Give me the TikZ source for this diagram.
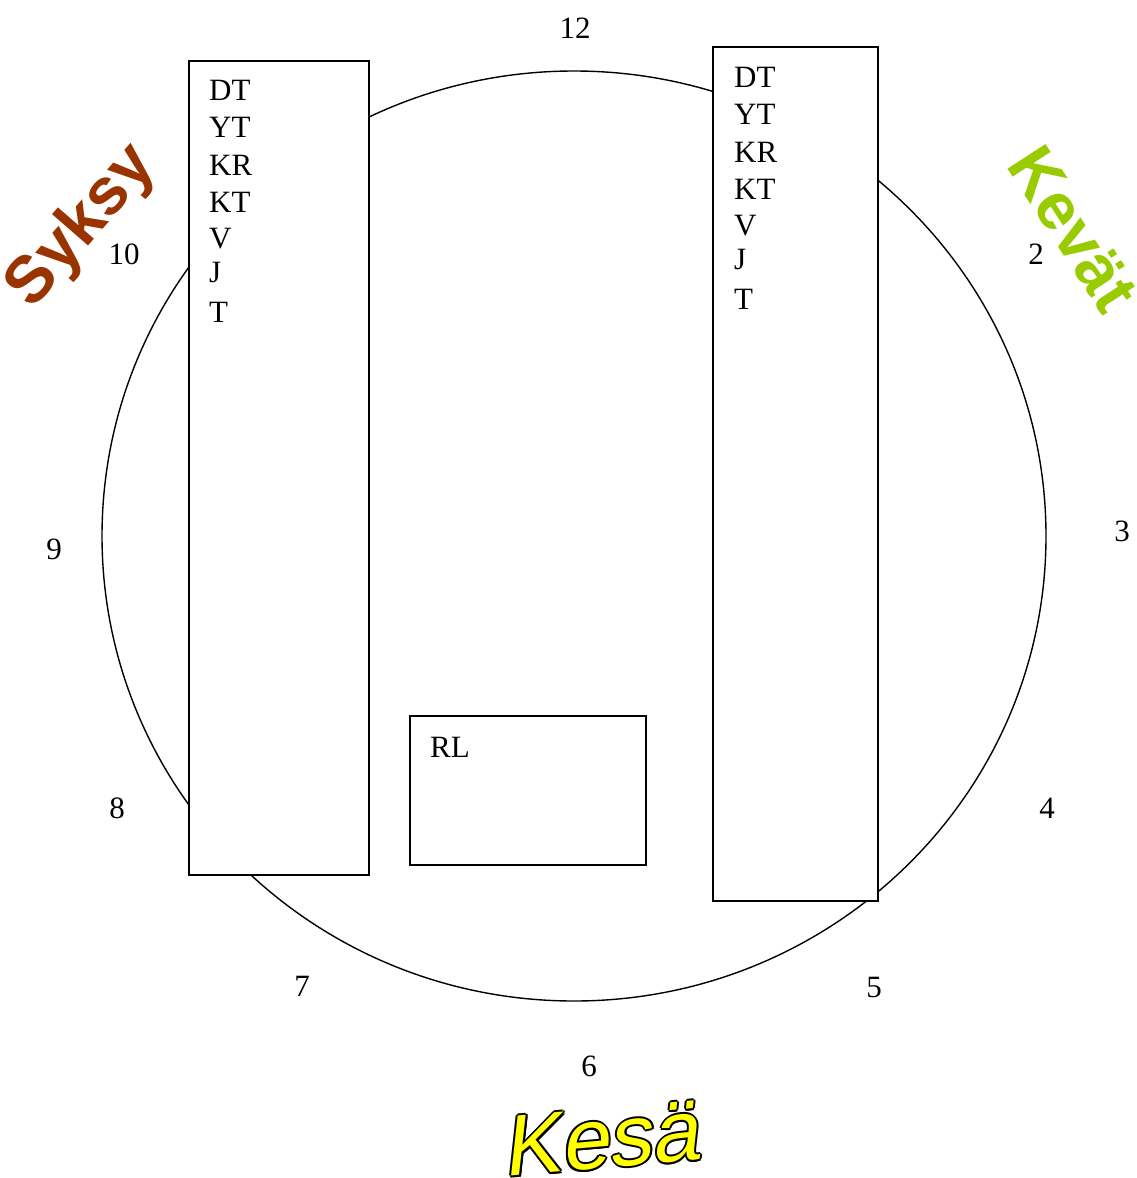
\documentclass[tikz,border=0pt]{standalone}
\usepackage{fontspec}
\usetikzlibrary{calc}
\setmainfont{Liberation Serif}
\newfontfamily\seasonfont{Liberation Sans}
\newfontfamily\kesafont[FakeSlant=0.2]{Liberation Sans}
\definecolor{syksyc}{HTML}{993300}
\definecolor{kevatc}{HTML}{99CC00}
\definecolor{kesac}{HTML}{FFFF00}
\begin{document}
\begin{tikzpicture}[x=1pt,y=-1pt,
  boxst/.style={draw,fill=white,line width=1.2pt,inner sep=0},
  itemst/.style={anchor=base west,inner sep=0,font=\fontsize{31}{31}\selectfont},
  numst/.style={inner sep=0,font=\fontsize{31}{31}\selectfont},
  seasonst/.style={inner sep=0,font=\seasonfont\bfseries\fontsize{66}{66}\selectfont}]
\useasboundingbox (0,0) rectangle (1137,1178);
\draw[line width=1.4pt] (574,536) ellipse [x radius=472, y radius=465];
% boxes
\draw[boxst] (189,61) rectangle (369,875);
\draw[boxst] (713,47) rectangle (878,901);
\draw[boxst] (410,716) rectangle (646,865);
% left list
\foreach \t/\y [count=\i] in {DT/100,YT/137,KR/175,KT/212,V/248,J/282,T/322}
  \node[itemst] (l\i) at (209,\y) {\t};
\foreach \t/\y [count=\i] in {DT/87,YT/124,KR/162,KT/199,V/235,J/269,T/309}
  \node[itemst] (r\i) at (734,\y) {\t};
\node[itemst] (rl) at (430,757) {RL};
% numbers
\node[numst] (n12) at (575,28) {12};
\node[numst] (n2) at (1036,254) {2};
\node[numst] (n3) at (1122,531) {3};
\node[numst] (n4) at (1047,808) {4};
\node[numst] (n5) at (874,987) {5};
\node[numst] (n6) at (589,1066) {6};
\node[numst] (n7) at (302,986) {7};
\node[numst] (n8) at (117,808) {8};
\node[numst] (n9) at (54,549) {9};
\node[numst] (n10) at (124,254) {10};
% seasons
\node[seasonst,text=syksyc,rotate=49] (syksy) at (82,227) {Syksy};
\node[seasonst,text=kevatc,rotate=-57] (kevat) at (1073,229) {Kevät};
\foreach \dx/\dy [count=\k] in {2/0,-2/0,0/2,0/-2,1.4/1.4,-1.4/1.4,1.4/-1.4,-1.4/-1.4}
  \node[inner sep=0,font=\kesafont\fontsize{86}{86}\selectfont,text=black,rotate=5] (ks\k) at ($(600,1139)+(\dx,\dy)$) {Kesä};
\node[inner sep=0,font=\kesafont\fontsize{86}{86}\selectfont,text=kesac,rotate=5] (kesa) at (600,1139) {Kesä};
\end{tikzpicture}
\end{document}
